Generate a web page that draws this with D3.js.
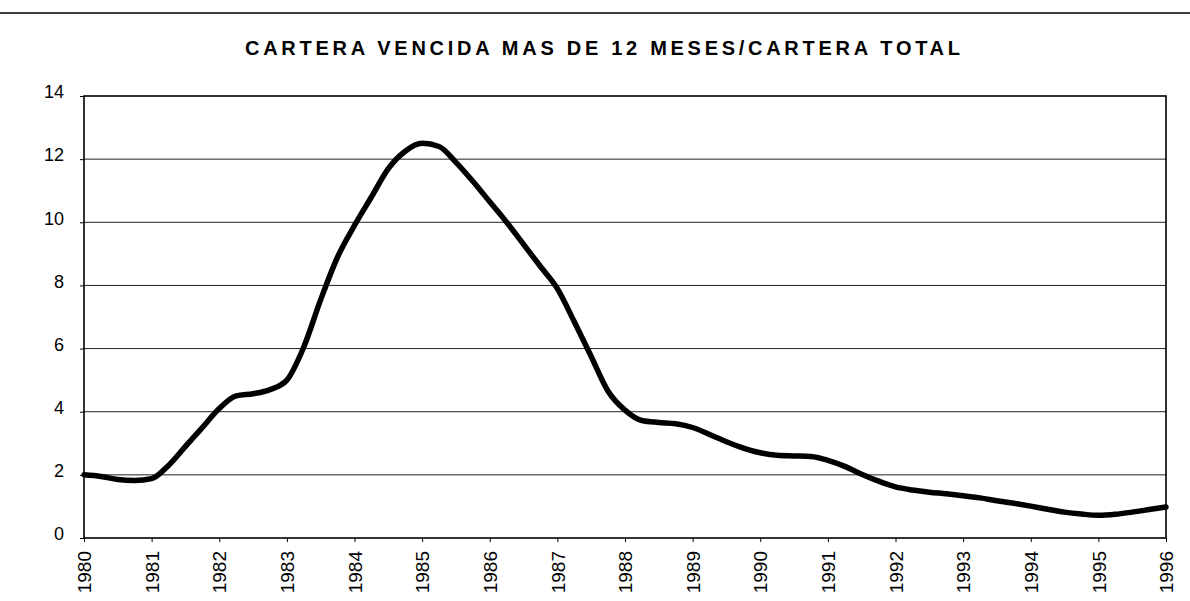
<!DOCTYPE html>
<html><head><meta charset="utf-8">
<script src="https://cdn.jsdelivr.net/npm/d3@7"></script>
<style>body{margin:0;background:#fff}svg{display:block}</style>
</head><body>
<svg id="c" width="1190" height="601"></svg>
<script>
const title = "CARTERA VENCIDA MAS DE 12 MESES/CARTERA TOTAL";
const yearTicks = [1980,1981,1982,1983,1984,1985,1986,1987,1988,1989,1990,1991,1992,1993,1994,1995,1996];
const yTicks = [0,2,4,6,8,10,12,14];
const periods = [1980,1980.25,1980.5,1980.75,1981,1981.25,1981.5,1981.75,1982,1982.25,1982.5,1982.75,1983,1983.25,1983.5,1983.75,1984,1984.25,1984.5,1984.75,1985,1985.25,1985.5,1985.75,1986,1986.25,1986.5,1986.75,1987,1987.25,1987.5,1987.75,1988,1988.25,1988.5,1988.75,1989,1989.25,1989.5,1989.75,1990,1990.25,1990.5,1990.75,1991,1991.25,1991.5,1991.75,1992,1992.25,1992.5,1992.75,1993,1993.25,1993.5,1993.75,1994,1994.25,1994.5,1994.75,1995,1995.25,1995.5,1995.75,1996];
const ratio = [2.0,1.95,1.85,1.82,1.88,2.3,2.9,3.5,4.1,4.5,4.57,4.7,5.0,6.05,7.55,8.9,9.9,10.8,11.7,12.25,12.5,12.4,11.9,11.3,10.65,10.0,9.3,8.6,7.9,6.85,5.75,4.65,4.05,3.72,3.66,3.62,3.5,3.28,3.05,2.85,2.7,2.62,2.6,2.58,2.46,2.27,2.02,1.8,1.62,1.52,1.45,1.4,1.34,1.27,1.18,1.1,1.01,0.91,0.82,0.76,0.72,0.75,0.82,0.9,0.98];

const svg = d3.select("#c");
const m = {l:84, r:1166, t:96, b:538};
const x = d3.scaleLinear().domain([1980,1996]).range([m.l, m.r]);
const y = d3.scaleLinear().domain([0,14]).range([m.b, m.t]);
const font = "Arial, 'Liberation Sans', sans-serif";

// top rule
svg.append("line").attr("x1",0).attr("x2",1190).attr("y1",13).attr("y2",13)
  .attr("stroke","#000").attr("stroke-width",1.5);

// title
svg.append("text").attr("x",245).attr("y",55)
  .attr("textLength",715).attr("lengthAdjust","spacing")
  .attr("font-family",font).attr("font-weight","bold").attr("font-size",20)
  .text(title);

// gridlines
svg.append("g").selectAll("line").data(yTicks.filter(v=>v>0&&v<14)).join("line")
  .attr("x1",m.l).attr("x2",m.r).attr("y1",d=>y(d)).attr("y2",d=>y(d))
  .attr("stroke","#222").attr("stroke-width",1);

// y axis
const ya = svg.append("g").attr("transform",`translate(${m.l},0)`)
  .call(d3.axisLeft(y).tickValues(yTicks).tickSize(4).tickPadding(16).tickFormat(d3.format("d")))
  .attr("font-family",font).attr("font-size",18);
ya.select(".domain").remove();
ya.selectAll("text").attr("fill","#000").attr("dy","0.1em");
ya.selectAll("line").attr("stroke","#000");

// x axis
const xa = svg.append("g").attr("transform",`translate(0,${m.b})`)
  .call(d3.axisBottom(x).tickValues(yearTicks).tickSize(4).tickFormat(d3.format("d")))
  .attr("font-family",font).attr("font-size",19);
xa.select(".domain").remove();
xa.selectAll("line").attr("stroke","#000");
xa.selectAll("text").attr("fill","#000")
  .attr("transform","rotate(-90)").attr("text-anchor","end")
  .attr("x",-13).attr("y",0).attr("dy","0.35em");

// frame
svg.append("rect").attr("x",m.l).attr("y",m.t).attr("width",m.r-m.l).attr("height",m.b-m.t)
  .attr("fill","none").attr("stroke","#000").attr("stroke-width",1.6);

// series
const pts = periods.map((p,i)=>[p, ratio[i]]);
svg.append("path").datum(pts)
  .attr("d", d3.line().x(d=>x(d[0])).y(d=>y(d[1])).curve(d3.curveMonotoneX))
  .attr("fill","none").attr("stroke","#000").attr("stroke-width",5.5)
  .attr("stroke-linejoin","round").attr("stroke-linecap","round");
</script>
</body></html>
